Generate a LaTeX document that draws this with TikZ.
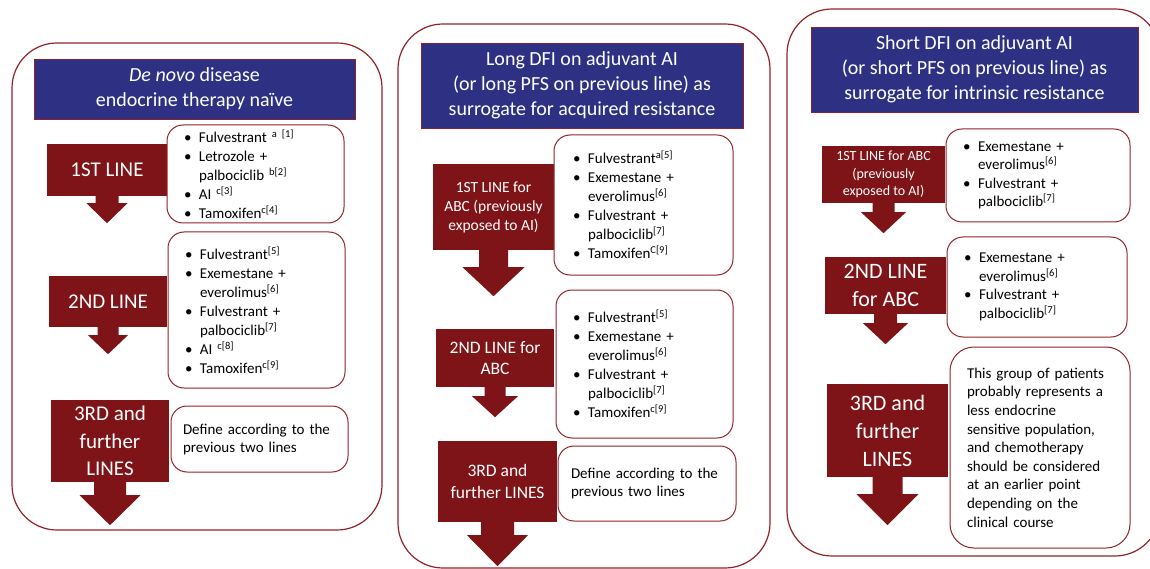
\documentclass[tikz,border=0pt]{standalone}
\usepackage{fontspec}
\setmainfont{Carlito}
\definecolor{arrowred}{RGB}{127,20,24}
\definecolor{titleblue}{RGB}{46,49,131}
\definecolor{edgered}{RGB}{145,35,40}
\def\W{1150}
\def\H{569}
\newcommand\itembul{\makebox[15pt][l]{\textbullet}}
\newcommand\itemcont{\hspace*{15pt}}
\newcommand\sups[1]{\textsuperscript{#1}}
\newcommand\arrowfoot[5]{%
  \fill[arrowred] (#1.south) ++(-#2,-1) -- ++(0,#3+1) -- ++({#2-#4},0)
    -- ++(#4,{#5-#3}) -- ++(#4,{#3-#5}) -- ++({#2-#4},0) -- ++(0,{-#3-1}) -- cycle;}

\begin{document}
\begin{tikzpicture}[x=1pt,y=-1pt,
  panel/.style={draw=edgered,line width=1.2pt,rounded corners=45pt,inner sep=0pt},
  title/.style={draw=edgered,line width=0.8pt,fill=titleblue,text=white,align=center,
    inner sep=0pt,font=\fontsize{20}{25}\selectfont},
  linebox/.style={fill=arrowred,text=white,align=center,inner sep=0pt},
  listbox/.style={draw=edgered,line width=1pt,fill=white,rounded corners=16pt,
    align=left,inner ysep=0pt,font=\fontsize{15}{19}\selectfont}]
\useasboundingbox (0,0) rectangle (\W,\H);
\clip (0,0) rectangle (\W,\H);

\node[panel,minimum width=370pt,minimum height=487pt] (panelA) at (197,286.5) {};
\node[panel,minimum width=372pt,minimum height=544pt] (panelB) at (584,296) {};
\node[panel,minimum width=373pt,minimum height=547pt] (panelC) at (973.5,282.5) {};

\node[title,minimum width=321pt,minimum height=60pt] (titleA) at (194.5,89)
  {\textit{De novo} disease\\endocrine therapy naïve};
\node[title,minimum width=322pt,minimum height=85pt] (titleB) at (582,85.5)
  {Long DFI on adjuvant AI\\(or long PFS on previous line) as\\surrogate for acquired resistance};
\node[title,minimum width=327pt,minimum height=85pt] (titleC) at (974.5,69.5)
  {Short DFI on adjuvant AI\\(or short PFS on previous line) as\\surrogate for intrinsic resistance};

\node[linebox,minimum width=120pt,minimum height=52pt,font=\fontsize{21}{26}\selectfont]
  (firstA) at (107,170) {1ST LINE};
\arrowfoot{firstA}{11.5}{7}{20.5}{27}
\node[linebox,minimum width=118pt,minimum height=51pt,font=\fontsize{21}{26}\selectfont]
  (secondA) at (108,301.5) {2ND LINE};
\arrowfoot{secondA}{10.5}{8}{20}{27}
\node[linebox,minimum width=118pt,minimum height=82pt,font=\fontsize{21}{27.5}\selectfont]
  (thirdA) at (110,441) {3RD and\\further\\LINES};
\arrowfoot{thirdA}{16}{13}{30.5}{43}

\node[linebox,minimum width=121pt,minimum height=86pt,font=\fontsize{15.5}{19}\selectfont]
  (firstB) at (493.5,207) {1ST LINE for\\ABC (previously\\exposed to AI)};
\arrowfoot{firstB}{14.5}{17}{31}{46}
\node[linebox,minimum width=118pt,minimum height=58pt,font=\fontsize{17.5}{21.5}\selectfont]
  (secondB) at (495,358) {2ND LINE for\\ABC};
\arrowfoot{secondB}{10.5}{9}{23}{30}
\node[linebox,minimum width=119pt,minimum height=81pt,font=\fontsize{17.5}{21.5}\selectfont]
  (thirdB) at (497.5,481.5) {3RD and\\further LINES};
\arrowfoot{thirdB}{16.5}{13}{30.5}{44}

\node[linebox,minimum width=123pt,minimum height=57pt,font=\fontsize{14}{17.5}\selectfont]
  (firstC) at (883.5,174.5) {1ST LINE for ABC\\(previously\\exposed to AI)};
\arrowfoot{firstC}{11}{9}{22.5}{30}
\node[linebox,minimum width=121pt,minimum height=57pt,font=\fontsize{22}{28}\selectfont]
  (secondC) at (885.5,285.5) {2ND LINE\\for ABC};
\arrowfoot{secondC}{11.5}{9}{22.5}{30}
\node[linebox,minimum width=121pt,minimum height=93pt,font=\fontsize{22}{28}\selectfont]
  (thirdC) at (887.5,430.5) {3RD and\\further\\LINES};
\arrowfoot{thirdC}{15}{17}{31}{48}

\node[listbox,inner xsep=17pt,text width=143pt,minimum height=98pt] (listA1) at (255.5,174)
  {\itembul Fulvestrant \sups{a [1]}\\\itembul Letrozole +\\\itemcont palbociclib \sups{b[2]}\\
   \itembul AI \sups{c[3]}\\\itembul Tamoxifen\sups{c[4]}};
\node[listbox,inner xsep=17pt,text width=143pt,minimum height=156pt] (listA2) at (256.5,310)
  {\itembul Fulvestrant\sups{[5]}\\\itembul Exemestane +\\\itemcont everolimus\sups{[6]}\\
   \itembul Fulvestrant +\\\itemcont palbociclib\sups{[7]}\\\itembul AI \sups{c[8]}\\
   \itembul Tamoxifen\sups{c[9]}};
\node[listbox,inner xsep=12pt,text width=153pt,minimum height=66pt,
  font=\fontsize{15}{18}\selectfont] (listA3) at (259.5,439)
  {Define according to the\\previous two lines};

\node[listbox,inner xsep=19pt,text width=141pt,minimum height=140pt] (listB1) at (643.5,205)
  {\itembul Fulvestrant\sups{a[5]}\\\itembul Exemestane +\\\itemcont everolimus\sups{[6]}\\
   \itembul Fulvestrant +\\\itemcont palbociclib\sups{[7]}\\\itembul Tamoxifen\sups{C[9]}};
\node[listbox,inner xsep=17pt,text width=143pt,minimum height=148pt] (listB2) at (644.5,364)
  {\itembul Fulvestrant\sups{[5]}\\\itembul Exemestane +\\\itemcont everolimus\sups{[6]}\\
   \itembul Fulvestrant +\\\itemcont palbociclib\sups{[7]}\\\itembul Tamoxifen\sups{c[9]}};
\node[listbox,inner xsep=13pt,text width=152pt,minimum height=75pt,
  font=\fontsize{15}{18}\selectfont] (listB3) at (647,483.5)
  {Define according to the\\previous two lines};

\node[listbox,inner xsep=17pt,text width=150pt,minimum height=93pt,
  font=\fontsize{15}{18.5}\selectfont] (listC1) at (1038,175.5)
  {\itembul Exemestane +\\\itemcont everolimus\sups{[6]}\\
   \itembul Fulvestrant +\\\itemcont palbociclib\sups{[7]}};
\node[listbox,inner xsep=17pt,text width=146pt,minimum height=100pt,
  font=\fontsize{15}{18.5}\selectfont] (listC2) at (1037,287)
  {\itembul Exemestane +\\\itemcont everolimus\sups{[6]}\\
   \itembul Fulvestrant +\\\itemcont palbociclib\sups{[7]}};
\node[listbox,inner xsep=17pt,text width=146pt,minimum height=201pt,rounded corners=24pt,
  font=\fontsize{15}{18.6}\selectfont] (listC3) at (1040,447.5)
  {This group of patients\\probably represents a\\less endocrine\\sensitive population,\\
   and chemotherapy\\should be considered\\at an earlier point\\depending on the\\clinical course};
\end{tikzpicture}
\end{document}
